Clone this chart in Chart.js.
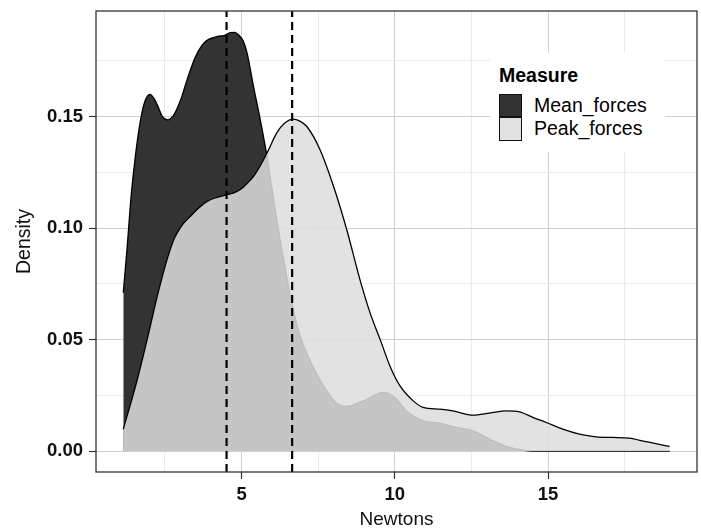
<!DOCTYPE html>
<html>
<head>
<meta charset="utf-8">
<script src="https://cdn.jsdelivr.net/npm/chart.js@4.4.1/dist/chart.umd.min.js"></script>
<style>
  html, body { margin: 0; padding: 0; background: #fff; }
  #wrap { position: relative; width: 701px; height: 531px; }
  #legend {
    position: absolute; left: 490px; top: 53px; width: 175px; height: 99px;
    background: #fff; font-family: 'Liberation Sans', Arial, sans-serif; color: #000;
  }
  #legend .title { position: absolute; left: 9px; top: 10.7px; font-size: 19.5px; font-weight: bold; line-height: 23.3px; }
  #legend .row { position: absolute; left: 9px; height: 23.3px; }
  #legend .key { position: absolute; left: 0; top: 0; width: 23.3px; height: 23.3px; box-sizing: border-box; border: 1.2px solid #111; }
  #legend .lbl { position: absolute; left: 35px; top: 0; font-size: 19.5px; line-height: 23.3px; white-space: nowrap; }
</style>
</head>
<body>
<div id="wrap">
  <canvas id="densityChart" width="701" height="531"></canvas>
  <div id="legend"></div>
</div>
<script>
// ── data ──
const MEAN_X = [1.14, 1.27, 1.40, 1.55, 1.71, 1.85, 2.01, 2.15, 2.25, 2.42, 2.59, 2.75, 2.90, 3.05, 3.22,
                3.50, 3.82, 4.20, 4.45, 4.63, 4.78, 4.90, 5.05, 5.18, 5.39, 5.61, 5.83, 6.10, 6.37, 6.64,
                6.91, 7.40, 7.89, 8.15, 8.43, 8.97, 9.62, 10.00, 10.38, 10.92, 11.47, 12.01, 12.55, 13.09,
                13.64, 14.18, 14.50, 18.97];
const MEAN_Y = [0.071, 0.092, 0.115, 0.134, 0.149, 0.157, 0.160, 0.158, 0.1553, 0.150, 0.1486, 0.150, 0.1538, 0.159, 0.1665,
                0.177, 0.1837, 0.1859, 0.1865, 0.1877, 0.1878, 0.1867, 0.184, 0.1785, 0.1635, 0.1486, 0.1322, 0.108, 0.086, 0.0666,
                0.0516, 0.036, 0.0248, 0.021, 0.0200, 0.0225, 0.0263, 0.024, 0.018, 0.0136, 0.0125, 0.0106, 0.0091, 0.0054,
                0.0021, 0.0004, 0, 0];

const PEAK_X = [1.14, 1.60, 1.92, 2.25, 2.57, 2.79, 2.90, 3.10, 3.33, 3.60, 3.88, 4.20, 4.53, 4.75, 4.96,
                5.18, 5.39, 5.61, 5.83, 6.15, 6.40, 6.69, 6.90, 7.13, 7.56, 8.00, 8.43, 8.86, 9.19, 9.52,
                9.84, 10.17, 10.60, 10.92, 11.47, 11.90, 12.55, 13.09, 13.64, 14.07, 14.50, 14.94, 15.48,
                16.02, 16.57, 17.11, 17.65, 18.19, 18.97];
const PEAK_Y = [0.0098, 0.0322, 0.0501, 0.0695, 0.086, 0.0949, 0.0979, 0.102, 0.1053, 0.109, 0.112, 0.1138, 0.115, 0.1158, 0.1173,
                0.120, 0.1232, 0.128, 0.1337, 0.1427, 0.147, 0.1489, 0.148, 0.1456, 0.1352, 0.1188, 0.0994, 0.077, 0.0621, 0.0501,
                0.0382, 0.0292, 0.0225, 0.0196, 0.0188, 0.018, 0.0161, 0.017, 0.018, 0.0176, 0.0151, 0.0128, 0.0098,
                0.0076, 0.0064, 0.0061, 0.0058, 0.0042, 0.0021];

// group means (dashed lines)
const MEAN_LINES = [4.51, 6.65];

const SERIES = ['Mean_forces', 'Peak_forces'];

const X_MAJOR = [5, 10, 15];
const X_MINOR = [2.5, 7.5, 12.5, 17.5];
const Y_MAJOR = [0, 0.05, 0.10, 0.15];
const Y_MINOR = [0.025, 0.075, 0.125, 0.175];

// ── style ──
const X_MIN = 0.25, X_MAX = 19.86;
const Y_MIN = -0.0094, Y_MAX = 0.1974;
const MEAN_FILL = '#333333';
const PEAK_FILL = 'rgba(221,221,221,0.86)';
const MAJOR_GRID = '#d0d0d0';
const MINOR_GRID = '#ebebeb';
const FONT = "'Liberation Sans', Arial, sans-serif";

Chart.defaults.font.family = FONT;
Chart.defaults.color = '#111';

const pts = (xs, ys) => xs.map((x, i) => ({ x, y: ys[i] }));
const isMajor = (list, v) => list.some(m => Math.abs(m - v) < 1e-9);

function buildLegend(containerId, items) {
  const el = document.getElementById(containerId);
  el.innerHTML = '<div class="title">Measure</div>' + items.map((item, i) =>
    `<div class="row" style="top:${41 + i * 23.3}px;">
       <div class="key" style="background:${item.color};"></div>
       <div class="lbl">${item.label}</div>
     </div>`
  ).join('');
}

buildLegend('legend', [
  { label: SERIES[0], color: MEAN_FILL },
  { label: SERIES[1], color: '#e2e2e2' },
]);

// panel border round the plot area
const panelBorder = {
  id: 'panelBorder',
  afterDraw(chart) {
    const { ctx, chartArea: a } = chart;
    ctx.save();
    ctx.strokeStyle = '#333';
    ctx.lineWidth = 1.3;
    ctx.strokeRect(a.left, a.top, a.right - a.left, a.bottom - a.top);
    ctx.restore();
  },
};

const vline = x => ({
  label: 'mean ' + x,
  data: [{ x, y: Y_MIN }, { x, y: Y_MAX }],
  borderColor: '#000',
  borderWidth: 2.2,
  borderDash: [8, 5],
  pointRadius: 0,
  fill: false,
});

// no extra room for overhanging tick labels
const noOverhang = s => {
  s.paddingTop = 0; s.paddingBottom = 0;
  s.paddingLeft = 0; s.paddingRight = 0;
};

new Chart(document.getElementById('densityChart'), {
  type: 'line',
  data: {
    datasets: [
      ...MEAN_LINES.map(vline),
      {
        label: SERIES[1],
        data: pts(PEAK_X, PEAK_Y),
        borderColor: '#000',
        borderWidth: 1.3,
        backgroundColor: PEAK_FILL,
        fill: 'origin',
        pointRadius: 0,
        cubicInterpolationMode: 'monotone',
      },
      {
        label: SERIES[0],
        data: pts(MEAN_X, MEAN_Y),
        borderColor: '#000',
        borderWidth: 1.3,
        backgroundColor: MEAN_FILL,
        fill: 'origin',
        pointRadius: 0,
        cubicInterpolationMode: 'monotone',
      },
    ],
  },
  options: {
    responsive: false,
    animation: false,
    layout: { padding: { top: 11, right: 4, left: 0, bottom: 0 } },
    plugins: {
      legend: { display: false },
      tooltip: { enabled: false },
    },
    scales: {
      x: {
        type: 'linear',
        min: X_MIN, max: X_MAX,
        afterBuildTicks: s => { s.ticks = [...X_MINOR, ...X_MAJOR].sort((a, b) => a - b).map(v => ({ value: v })); },
        afterFit: s => { s.height = 59; noOverhang(s); },
        border: { display: false },
        grid: {
          color: c => isMajor(X_MAJOR, c.tick.value) ? MAJOR_GRID : MINOR_GRID,
          tickColor: c => isMajor(X_MAJOR, c.tick.value) ? '#333' : 'rgba(0,0,0,0)',
          tickLength: 7,
          tickWidth: 1.2,
        },
        ticks: {
          autoSkip: false,
          maxRotation: 0,
          padding: 5,
          font: { size: 18.5, weight: 'bold' },
          color: '#111',
          callback: v => isMajor(X_MAJOR, v) ? String(v) : '',
        },
        title: {
          display: true,
          text: 'Newtons',
          font: { size: 19 },
          color: '#111',
          padding: { top: 0, bottom: 0 },
        },
      },
      y: {
        type: 'linear',
        min: Y_MIN, max: Y_MAX,
        afterBuildTicks: s => { s.ticks = [...Y_MINOR, ...Y_MAJOR].sort((a, b) => a - b).map(v => ({ value: v })); },
        afterFit: s => { s.width = 96; noOverhang(s); },
        border: { display: false },
        grid: {
          color: c => isMajor(Y_MAJOR, c.tick.value) ? MAJOR_GRID : MINOR_GRID,
          tickColor: c => isMajor(Y_MAJOR, c.tick.value) ? '#333' : 'rgba(0,0,0,0)',
          tickLength: 7,
          tickWidth: 1.2,
        },
        ticks: {
          autoSkip: false,
          padding: 6,
          font: { size: 18.5, weight: 'bold' },
          color: '#111',
          callback: v => isMajor(Y_MAJOR, v) ? v.toFixed(2) : '',
        },
        title: {
          display: true,
          text: 'Density',
          font: { size: 19.5 },
          color: '#111',
          padding: { top: 13, bottom: 0 },
        },
      },
    },
  },
  plugins: [panelBorder],
});
</script>
</body>
</html>
